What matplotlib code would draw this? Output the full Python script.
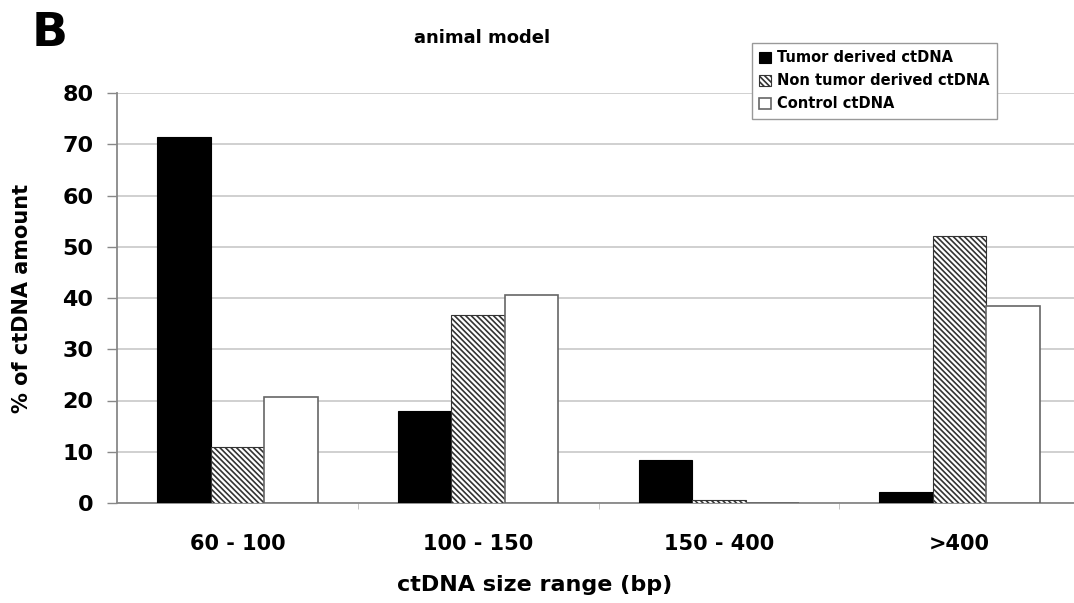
import numpy as np
import matplotlib.pyplot as plt

# values
categories = ['60 - 100', '100 - 150', '150 - 400', '>400']
tumor = [71.4, 18.0, 8.4, 2.1]
non_tumor = [10.9, 36.7, 0.6, 52.1]
control = [20.7, 40.6, 0.0, 38.5]
yticks = [0, 10, 20, 30, 40, 50, 60, 70, 80]

plt.rcParams['hatch.linewidth'] = 1.2
plt.rcParams['font.family'] = ['DejaVu Sans']

fig = plt.figure(figsize=(10.74, 6.03), dpi=100)
ax = fig.add_axes([117 / 1074, 100 / 603, (1080 - 117) / 1074, 410 / 603])

x = np.arange(len(categories))
w = 0.222

ax.bar(x - w, tumor, w, color='black', edgecolor='black', linewidth=0.8,
       label='Tumor derived ctDNA', zorder=3)
ax.bar(x, non_tumor, w, color='white', edgecolor='#333333', hatch='\\\\\\\\\\\\',
       linewidth=0.8, label='Non tumor derived ctDNA', zorder=3)
ax.bar(x + w, control, w, color='white', edgecolor='#666666', linewidth=1.2,
       label='Control ctDNA', zorder=3)

ax.set_xlim(-0.5, 3.5)
ax.set_ylim(0, 80)
ax.set_yticks(yticks)
ax.set_yticklabels([str(v) for v in yticks], fontsize=16, fontweight='bold')
ax.set_xticks(x)
ax.set_xticklabels(categories, fontsize=15, fontweight='bold')
ax.set_xticks([0.5, 1.5, 2.5], minor=True)
ax.tick_params(axis='x', which='major', length=0, pad=22)
ax.tick_params(axis='x', which='minor', length=4, color='#bbbbbb')
ax.tick_params(axis='y', length=7, color='#888888', pad=10, width=1)

ax.grid(axis='y', color='#c8c8c8', linewidth=1.2, zorder=0)
ax.set_axisbelow(True)
for s in ['top', 'right']:
    ax.spines[s].set_visible(False)
for s in ['left', 'bottom']:
    ax.spines[s].set_color('#888888')
    ax.spines[s].set_linewidth(1.3)

ax.set_ylabel('% of ctDNA amount', fontsize=15, fontweight='bold')
ax.yaxis.set_label_coords(-0.088, 0.5)
fig.text(535 / 1074, 1 - 585 / 603, 'ctDNA size range (bp)', fontsize=16,
         fontweight='bold', ha='center', va='center')
fig.text(482 / 1074, 1 - 38 / 603, 'animal model', fontsize=13,
         fontweight='bold', ha='center', va='center')
fig.text(50 / 1074, 1 - 33 / 603, 'B', fontsize=34, fontweight='bold',
         ha='center', va='center')

leg = fig.legend(loc='upper left', bbox_to_anchor=(752 / 1074, 1 - 43 / 603),
                 bbox_transform=fig.transFigure, frameon=True, fancybox=False,
                 edgecolor='#999999', framealpha=1, borderaxespad=0,
                 prop={'size': 10.5, 'weight': 'bold'}, handlelength=0.8,
                 handleheight=0.8, handletextpad=0.4, labelspacing=0.55,
                 borderpad=0.5)
leg.get_frame().set_linewidth(1.0)

fig.savefig('out.png', dpi=100)
